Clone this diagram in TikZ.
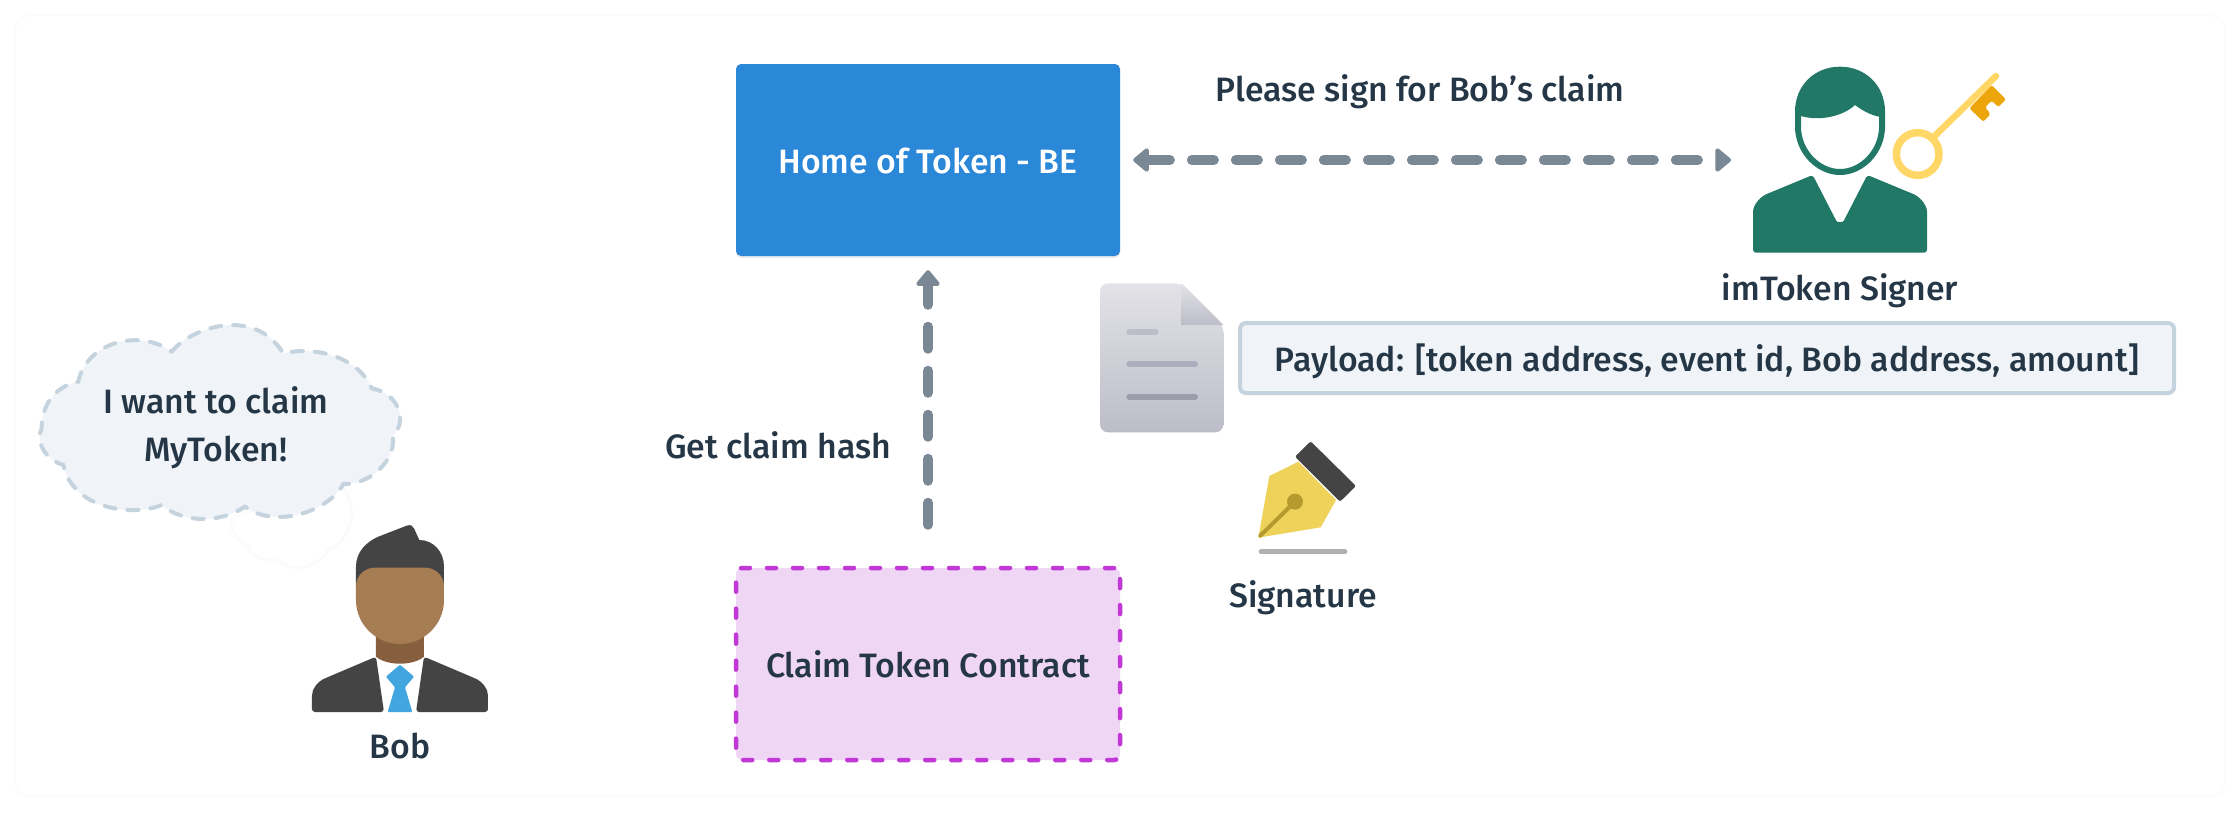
\documentclass[tikz,border=0pt]{standalone}
\usepackage{fontspec}
\setmainfont{Fira Sans}[UprightFont=* Medium]
\usepackage{tikz}
\usetikzlibrary{arrows.meta,shadows}

\definecolor{inkcol}{HTML}{253746}
\definecolor{linecol}{HTML}{7A8896}
\definecolor{cloudfill}{HTML}{F0F4F8}
\definecolor{clouddraw}{HTML}{C5D3DE}
\definecolor{beblue}{HTML}{2B88D8}
\definecolor{signercol}{HTML}{217867}
\definecolor{darkcol}{HTML}{444444}
\definecolor{claimfill}{HTML}{F0D6F5}
\definecolor{claimdraw}{HTML}{C238D6}
\definecolor{skincol}{HTML}{A67C52}
\definecolor{neckcol}{HTML}{86603E}
\definecolor{tiecol}{HTML}{42A5DF}
\definecolor{keycol}{HTML}{FFD766}
\definecolor{bitcol}{HTML}{ECA60C}
\definecolor{doctop}{HTML}{E2E2E7}
\definecolor{docbot}{HTML}{BDBDC9}
\definecolor{docline}{HTML}{ADADBD}
\definecolor{nibcol}{HTML}{EED25A}
\definecolor{nibdark}{HTML}{B59A2F}
\definecolor{rulecol}{HTML}{B0B0B0}

\begin{document}
\begin{tikzpicture}[x=1pt,y=-1pt]
    \tikzset{label/.style = {text=inkcol,font=\fontsize{33.8}{48}\selectfont,align=center}}
    \tikzset{edge/.style = {draw=linecol,line width=10pt,line cap=round,dash pattern=on 22pt off 22pt,>={Triangle[length=17pt,width=27pt,round]}}}
    \tikzset{backend/.style = {fill=beblue,rounded corners=5pt,minimum width=384pt,minimum height=192pt,text=white,font=\fontsize{33.8}{48}\selectfont,drop shadow={shadow xshift=0pt,shadow yshift=-2pt,opacity=.15}}}
    \tikzset{contract/.style = {label,fill=claimfill,draw=claimdraw,line width=4.5pt,rounded corners=6pt,line cap=round,dash pattern=on 9pt off 17pt,minimum width=384pt,minimum height=192pt}}
    \tikzset{payloadbox/.style = {label,draw=clouddraw,fill=cloudfill,line width=4pt,rounded corners=6pt,minimum width=934pt,minimum height=70pt}}
    % page
    \fill[white] (0,0) rectangle (2240,812);
    \draw[black!1,line width=2pt,rounded corners=14pt] (15,15) rectangle (2225,796);
    % vertices
    \node[backend,text height=29pt,text depth=3pt] (home) at (928,160) {Home of Token - BE};
    \node[label] (please) at (1420,92) {Please sign for Bob's claim};
    \node[label] (signer) at (1840,291) {imToken Signer};
    \node[payloadbox,text height=29pt,text depth=3pt] (payload) at (1707,358) {Payload: [token address, event id, Bob address, amount]};
    \node[label] (hash) at (778,445) {Get claim hash};
    \node[label] (signature) at (1303,598) {Signature};
    \node[label] (bob) at (400,746) {Bob};
    \node[contract] (claim) at (928,664) {Claim Token Contract};
    \coordinate (signerend) at (1731,160);
    %edges
    \draw[edge,->,shorten <=41pt,shorten >=14pt] (claim.north) -- (home.south);
    \draw[edge,<->,shorten <=13pt] (home.east) -- (signerend);
    % cloud
    \begin{scope}[shift={(20,310)},scale=1/3]
        \draw[fill=white,draw=black!1.5,line width=3pt] (960,520) .. controls (1010,570) and (1010,680) .. (925,720) .. controls (890,780) and (800,790) .. (775,745) .. controls (720,760) and (670,720) .. (690,710) .. controls (640,690) and (620,640) .. (640,620) -- cycle;
        \path[fill=cloudfill,draw=clouddraw,line width=4pt,line cap=round,dash pattern=on 11pt off 12pt]
            (455,125) .. controls (510,55) and (700,-15) .. (790,130)
            .. controls (900,105) and (1020,150) .. (1055,235)
            .. controls (1110,245) and (1145,290) .. (1140,330)
            .. controls (1140,350) and (1130,365) .. (1118,378)
            .. controls (1130,450) and (1050,525) .. (970,522)
            .. controls (930,600) and (770,660) .. (675,590)
            .. controls (600,640) and (490,640) .. (425,585)
            .. controls (340,620) and (160,600) .. (130,465)
            .. controls (80,450) and (45,400) .. (65,355)
            .. controls (65,290) and (100,230) .. (175,215)
            .. controls (200,95) and (360,55) .. (455,125) -- cycle;
    \end{scope}
    \node[label] (want) at (216,428) {I want to claim\\MyToken!};
    % bob
    \begin{scope}[shift={(20,310)},scale=1/3]
        \fill[darkcol] (1008,835) -- (1008,770) .. controls (1008,725) and (1040,695) .. (1075,680) -- (1160,647) .. controls (1172,643) and (1178,647) .. (1182,655) -- (1198,690) .. controls (1240,690) and (1272,725) .. (1272,770) -- (1272,835) -- cycle;
        \fill[neckcol] (1068,970) -- (1212,970) -- (1212,1040) .. controls (1180,1068) and (1100,1068) .. (1068,1040) -- cycle;
        \fill[skincol] (1008,830) .. controls (1008,795) and (1035,773) .. (1065,773) -- (1215,773) .. controls (1245,773) and (1272,795) .. (1272,830) -- (1272,870) .. controls (1272,945) and (1210,1002) .. (1140,1002) .. controls (1070,1002) and (1008,945) .. (1008,870) -- cycle;
        \fill[darkcol,rounded corners=3pt] (1068,1040) -- (1092,1206) -- (876,1206) -- (876,1165) .. controls (876,1135) and (895,1115) .. (915,1105) -- cycle;
        \fill[darkcol,rounded corners=3pt] (1212,1040) -- (1188,1206) -- (1404,1206) -- (1404,1165) .. controls (1404,1135) and (1385,1115) .. (1365,1105) -- cycle;
        \fill[tiecol,rounded corners=1pt] (1140,1064) -- (1182,1100) -- (1155,1132) -- (1177,1206) -- (1103,1206) -- (1125,1132) -- (1098,1100) -- cycle;
    \end{scope}
    % signer
    \begin{scope}[shift={(1720,40)},scale=1/3]
        \fill[signercol,even odd rule] (225,215) .. controls (225,135) and (285,80) .. (360,80) .. controls (435,80) and (495,135) .. (495,215) -- (495,260) .. controls (495,340) and (430,405) .. (360,405) .. controls (290,405) and (225,340) .. (225,260) -- cycle
            (243,228) -- (243,260) .. controls (243,330) and (300,387) .. (360,387) .. controls (420,387) and (477,330) .. (477,260) -- (477,230) .. controls (450,225) and (425,210) .. (405,195) .. controls (370,228) and (300,245) .. (243,228) -- cycle;
        \fill[signercol,rounded corners=3pt] (278,405) -- (345,535) .. controls (352,548) and (368,548) .. (375,535) -- (442,405) -- (570,458) .. controls (600,470) and (621,495) .. (621,525) -- (621,638) -- (99,638) -- (99,525) .. controls (99,495) and (120,470) .. (150,458) -- cycle;
        \fill[bitcol,rounded corners=2pt] (748,205) -- (815,135) -- (858,178) -- (835,201) -- (815,182) -- (795,202) -- (812,222) -- (790,245) -- cycle;
        \draw[keycol,line width=7.5pt] (593,342) circle[radius=64];
        \draw[keycol,line width=6.5pt,line cap=round] (645,287) -- (828,108);
    \end{scope}
    % document
    \begin{scope}[shift={(1080,270)},scale=1/3]
        \shade[top color=doctop,bottom color=docbot,rounded corners=8pt] (60,40) -- (305,40) -- (430,165) -- (430,487) -- (60,487) -- cycle;
        \shade[top color=doctop,bottom color=docbot] (305,40) -- (430,165) -- (305,165) -- cycle;
        \draw[docbot,line width=6pt,line cap=round] (148,186) -- (227,186);
        \draw[docline,line width=6pt,line cap=round] (148,283) -- (345,283);
        \draw[docline!90!black,line width=6pt,line cap=round] (148,381) -- (345,381);
    \end{scope}
    % pen
    \begin{scope}[shift={(1080,270)},scale=1/3]
        \fill[nibcol] (568,618) -- (655,575) -- (768,690) -- (722,772) -- (535,803) -- cycle;
        \fill[darkcol,rounded corners=2pt] (692,514) -- (828,648) -- (780,695) -- (645,560) -- cycle;
        \fill[nibdark] (645,695) circle[radius=24];
        \draw[nibdark,line width=4pt,line cap=round] (541,797) -- (645,695);
        \draw[rulecol,line width=5.5pt,line cap=round] (544,845) -- (794,845);
    \end{scope}
\end{tikzpicture}
\end{document}
